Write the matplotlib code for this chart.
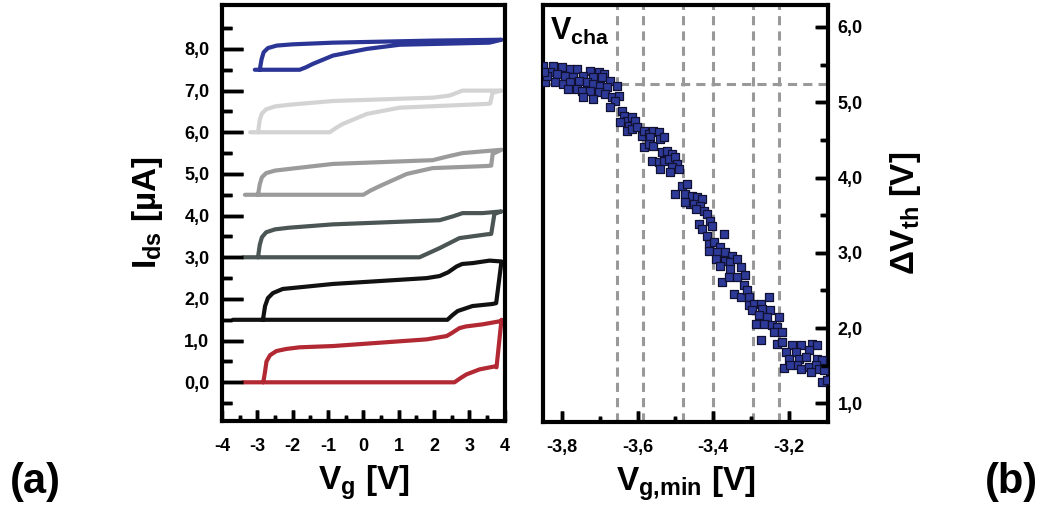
import matplotlib
matplotlib.use("Agg")
import matplotlib.pyplot as plt
from matplotlib.ticker import FuncFormatter, FixedLocator

plt.rcParams['font.family'] = ['Liberation Sans', 'DejaVu Sans']
plt.rcParams['font.weight'] = 'bold'
plt.rcParams['axes.labelweight'] = 'bold'
plt.rcParams['mathtext.fontset'] = 'custom'
plt.rcParams['mathtext.rm'] = 'Liberation Sans:bold'
plt.rcParams['mathtext.bf'] = 'Liberation Sans:bold'
plt.rcParams['mathtext.it'] = 'Liberation Sans:bold'
for a in ('xtick', 'ytick'):
    plt.rcParams[a + '.direction'] = 'in'
    plt.rcParams[a + '.color'] = 'black'
    plt.rcParams[a + '.major.width'] = 2.5
    plt.rcParams[a + '.minor.width'] = 2.5
    plt.rcParams[a + '.labelsize'] = 13
plt.rcParams['xtick.major.size'] = 8
plt.rcParams['xtick.minor.size'] = 4
plt.rcParams['ytick.major.size'] = 15
plt.rcParams['ytick.minor.size'] = 7

# (a) hysteresis loops, I_ds vs V_g, offset by 1.5 uA each
red_x = [-3.4, -2.83, 2.58, 2.75, 2.92, 3.29, 3.71, 3.77, 3.91, 3.90, 3.37, 2.90, 2.72, 2.50, 2.36, 1.79, -0.86,
         -1.80, -2.18, -2.46, -2.64, -2.74, -2.78, -2.83]
red_y = [0.0, 0.0, 0.0, 0.10, 0.19, 0.31, 0.38, 0.36, 1.50, 1.47, 1.39, 1.34, 1.30, 1.18, 1.11, 1.03, 0.87,
         0.84, 0.80, 0.75, 0.65, 0.50, 0.26, 0.0]

blk_x = [-3.69, -2.84, 2.38, 2.52, 2.67, 3.09, 3.66, 3.76, 3.91, 3.57, 3.09, 2.80, 2.64, 2.40, 2.16, 1.79, -0.86,
         -1.80, -2.28, -2.56, -2.70, -2.78, -2.84]
blk_y = [1.5, 1.5, 1.5, 1.61, 1.71, 1.83, 1.88, 1.90, 2.90, 2.92, 2.86, 2.84, 2.78, 2.64, 2.55, 2.50, 2.36,
         2.28, 2.24, 2.14, 2.02, 1.83, 1.5]

dgr_x = [-3.4, -2.98, 1.59, 1.85, 2.16, 2.72, 3.49, 3.62, 3.71, 3.91, 3.37, 2.81, 2.53, 2.16, -0.86,
         -2.10, -2.50, -2.75, -2.87, -2.93, -2.98]
dgr_y = [3.0, 3.0, 3.0, 3.10, 3.22, 3.46, 3.55, 3.56, 4.04, 4.10, 4.06, 4.06, 3.98, 3.89, 3.79,
         3.71, 3.67, 3.60, 3.48, 3.30, 3.0]

gry_x = [-3.35, -2.98, 0.0, 0.2, 0.47, 1.23, 1.96, 3.49, 3.62, 3.66, 3.91, 2.81, 2.44, 1.96, -0.86,
         -2.10, -2.50, -2.75, -2.87, -2.93, -2.98]
gry_y = [4.5, 4.5, 4.5, 4.60, 4.71, 5.0, 5.14, 5.19, 5.20, 5.48, 5.58, 5.50, 5.43, 5.33, 5.24,
         5.12, 5.08, 5.02, 4.92, 4.75, 4.5]

lgr_x = [-3.2, -2.98, -0.95, -0.78, -0.58, 0.1, 1.03, 3.49, 3.59, 3.66, 3.91, 2.81, 2.44, 1.96, -0.86,
         -2.10, -2.50, -2.75, -2.87, -2.93, -2.98]
lgr_y = [6.0, 6.0, 6.0, 6.10, 6.2, 6.44, 6.59, 6.68, 6.69, 6.95, 7.0, 7.0, 6.88, 6.83, 6.75,
         6.66, 6.62, 6.55, 6.45, 6.30, 6.0]

blu_x = [-3.07, -2.93, -1.8, -1.62, -1.43, -0.86, 0.1, 1.03, 3.57, 3.91, 1.96, -0.86,
         -2.00, -2.45, -2.70, -2.82, -2.88, -2.93]
blu_y = [7.5, 7.5, 7.5, 7.56, 7.64, 7.84, 8.0, 8.1, 8.15, 8.22, 8.20, 8.15,
         8.11, 8.08, 8.02, 7.92, 7.75, 7.5]

curves = [(red_x, red_y, '#B22833'), (blk_x, blk_y, '#111111'), (dgr_x, dgr_y, '#4B5554'),
          (gry_x, gry_y, '#9B9B9B'), (lgr_x, lgr_y, '#D3D3D3'), (blu_x, blu_y, '#2B3595')]

# tick positions
a_xmajor = [-4, -3, -2, -1, 0, 1, 2, 3, 4]
a_xminor = [-3.5, -2.5, -1.5, -0.5, 0.5, 1.5, 2.5, 3.5]
a_ymajor = [0, 1, 2, 3, 4, 5, 6, 7, 8]
a_yminor = [-0.5, 0.5, 1.5, 2.5, 3.5, 4.5, 5.5, 6.5, 7.5, 8.5]
b_xmajor = [-3.8, -3.6, -3.4, -3.2]
b_xminor = [-3.7, -3.5, -3.3]
b_ymajor = [1, 2, 3, 4, 5, 6]
b_yminor = [1.5, 2.5, 3.5, 4.5, 5.5]

# (b) threshold shift vs minimum gate voltage
vg_min = [-3.849, -3.823, -3.801, -3.779, -3.761, -3.726, -3.703, -3.690, -3.832, -3.814,
          -3.792, -3.770, -3.743, -3.717, -3.695, -3.673, -3.655, -3.845, -3.818, -3.796,
          -3.779, -3.756, -3.734, -3.717, -3.699, -3.681, -3.783, -3.761, -3.748, -3.726,
          -3.703, -3.686, -3.668, -3.650, -3.659, -3.743, -3.717, -3.673, -3.642, -3.637,
          -3.628, -3.624, -3.646, -3.840, -3.846,
          -3.615, -3.606, -3.628, -3.615, -3.602, -3.589, -3.584, -3.571, -3.558, -3.544,
          -3.567, -3.584, -3.571, -3.558, -3.540, -3.531, -3.536, -3.522, -3.509, -3.562,
          -3.544, -3.531, -3.518, -3.500, -3.496, -3.509, -3.540, -3.514, -3.491, -3.483,
          -3.469, -3.500, -3.474, -3.456, -3.443, -3.461, -3.474,
          -3.430, -3.452, -3.434, -3.425, -3.447, -3.416, -3.438, -3.408, -3.403, -3.430,
          -3.416, -3.372, -3.412, -3.399, -3.381, -3.412, -3.390, -3.368, -3.350, -3.394,
          -3.368, -3.355, -3.337, -3.328, -3.381, -3.355, -3.377, -3.359, -3.337, -3.315,
          -3.346, -3.319, -3.328, -3.311, -3.306,
          -3.253, -3.306, -3.293, -3.275, -3.297, -3.271, -3.249, -3.280, -3.257, -3.227,
          -3.288, -3.266, -3.244, -3.231, -3.240, -3.218, -3.275, -3.231, -3.218, -3.191,
          -3.169, -3.138, -3.125, -3.209, -3.182, -3.147, -3.200, -3.174, -3.156, -3.125,
          -3.112, -3.178, -3.213, -3.196, -3.169, -3.147, -3.129, -3.143, -3.121, -3.107,
          -3.112, -3.100]
dvth = [5.487, 5.487, 5.465, 5.443, 5.443, 5.421, 5.399, 5.377, 5.399, 5.377,
        5.355, 5.332, 5.355, 5.332, 5.332, 5.288, 5.222, 5.266, 5.266, 5.244,
        5.266, 5.288, 5.266, 5.244, 5.222, 5.200, 5.177, 5.177, 5.155, 5.155,
        5.133, 5.111, 5.067, 5.089, 5.023, 5.067, 5.045, 4.934, 4.890, 4.823,
        4.757, 4.690, 4.735, 5.355, 5.399,
        4.800, 4.756, 4.623, 4.646, 4.668, 4.557, 4.623, 4.579, 4.623, 4.601,
        4.535, 4.402, 4.446, 4.424, 4.513, 4.535, 4.336, 4.358, 4.313, 4.225,
        4.203, 4.225, 4.247, 4.269, 4.181, 4.136, 4.114, 4.070, 4.114, 3.893,
        3.915, 3.782, 3.782, 3.760, 3.738, 3.649, 3.672,
        3.716, 3.650, 3.627, 3.561, 3.583, 3.517, 3.384, 3.428, 3.362, 3.317,
        3.229, 3.251, 3.118, 3.140, 3.074, 3.030, 3.008, 3.008, 2.963, 2.919,
        2.897, 2.875, 2.919, 2.808, 2.830, 2.786, 2.609, 2.676, 2.676, 2.698,
        2.454, 2.565, 2.410, 2.499, 2.410,
        2.410, 2.300, 2.322, 2.322, 2.233, 2.255, 2.233, 2.167, 2.145, 2.145,
        2.056, 2.056, 2.034, 2.012, 1.945, 1.945, 1.835, 1.790, 1.813, 1.768,
        1.768, 1.790, 1.768, 1.680, 1.680, 1.702, 1.591, 1.591, 1.613, 1.591,
        1.569, 1.503, 1.467, 1.503, 1.458, 1.481, 1.503, 1.414, 1.458, 1.436,
        1.281, 1.304]

guide_x = [-3.654, -3.585, -3.479, -3.400, -3.296, -3.227]
guide_y = 5.24

fig = plt.figure(figsize=(10.47, 5.16), dpi=100)
axa = fig.add_axes([0.212, 0.184, 0.270, 0.806])
axb = fig.add_axes([0.5186, 0.182, 0.2722, 0.808])


def comma(v, p):
    return f'{v:.1f}'.replace('.', ',')


def draw_ticks(ax, pos, start, end, axis):
    # tick marks drawn as short lines, in axes fraction across the spine
    tr = ax.get_xaxis_transform() if axis == 'x' else ax.get_yaxis_transform()
    for p in pos:
        if axis == 'x':
            ax.plot([p, p], [start, end], transform=tr, color='black', lw=2.5,
                    solid_capstyle='butt', clip_on=False, zorder=6)
        else:
            ax.plot([start, end], [p, p], transform=tr, color='black', lw=2.5,
                    solid_capstyle='butt', clip_on=False, zorder=6)


# panel (a)
for cx, cy, col in curves:
    axa.plot(cx, cy, color=col, lw=3, solid_joinstyle='round', solid_capstyle='round')
axa.set_xlim(-4, 4)
axa.set_ylim(-0.93, 9.05)
axa.xaxis.set_major_locator(FixedLocator(a_xmajor))
axa.xaxis.set_minor_locator(FixedLocator(a_xminor))
axa.xaxis.set_major_formatter(FuncFormatter(lambda v, p: f'{v:.0f}'))
axa.yaxis.set_major_locator(FixedLocator(a_ymajor))
axa.yaxis.set_minor_locator(FixedLocator(a_yminor))
axa.yaxis.set_major_formatter(FuncFormatter(comma))
axa.set_xlabel(r'$\mathbf{V_g}$ [V]', fontsize=24, labelpad=6)
axa.set_ylabel(r'$\mathbf{I_{ds}}$ [µA]', fontsize=24, labelpad=14)
draw_ticks(axa, a_xmajor[1:-1], 0, 0.026, 'x')
draw_ticks(axa, a_xminor, 0, 0.013, 'x')
draw_ticks(axa, a_ymajor, 0, 0.074, 'y')
draw_ticks(axa, a_yminor, 0, 0.035, 'y')

# panel (b)
for gx in guide_x:
    axb.axvline(gx, color='#999999', lw=2.2, ls=(0, (3, 2)), zorder=1)
axb.axhline(guide_y, color='#999999', lw=2.2, ls=(0, (3, 2)), zorder=1)
axb.scatter(vg_min, dvth, marker='s', s=38, c='#2E3A97', edgecolors='#111133',
            linewidths=0.9, zorder=3)
axb.set_xlim(-3.85, -3.097)
axb.set_ylim(0.75, 6.29)
axb.xaxis.set_major_locator(FixedLocator(b_xmajor))
axb.xaxis.set_minor_locator(FixedLocator(b_xminor))
axb.xaxis.set_major_formatter(FuncFormatter(comma))
axb.yaxis.tick_right()
axb.yaxis.set_label_position('right')
axb.yaxis.set_major_locator(FixedLocator(b_ymajor))
axb.yaxis.set_minor_locator(FixedLocator(b_yminor))
axb.yaxis.set_major_formatter(FuncFormatter(comma))
axb.set_xlabel(r'$\mathbf{V_{g{,}min}}$ [V]', fontsize=24, labelpad=6)
axb.set_ylabel(r'$\Delta\mathbf{V_{th}}$ [V]', fontsize=24, labelpad=18)
axb.text(0.025, 0.975, r'$\mathbf{V_{cha}}$', transform=axb.transAxes, fontsize=22,
         ha='left', va='top')
draw_ticks(axb, b_xmajor, 0, 0.026, 'x')
draw_ticks(axb, b_xminor, 0, 0.013, 'x')
draw_ticks(axb, b_ymajor, 1, 0.954, 'y')
draw_ticks(axb, b_yminor, 1, 0.975, 'y')

for ax in (axa, axb):
    for s in ax.spines.values():
        s.set_linewidth(3)
    ax.tick_params(axis='x', which='major', pad=12)
axa.tick_params(axis='y', which='major', pad=9)
axb.tick_params(axis='y', which='major', length=9, pad=7)
axb.tick_params(axis='y', which='minor', length=6)

fig.text(0.034, 0.065, '(a)', fontsize=30, ha='center', va='center')
fig.text(0.966, 0.065, '(b)', fontsize=30, ha='center', va='center')

fig.savefig('out.png', dpi=100)
